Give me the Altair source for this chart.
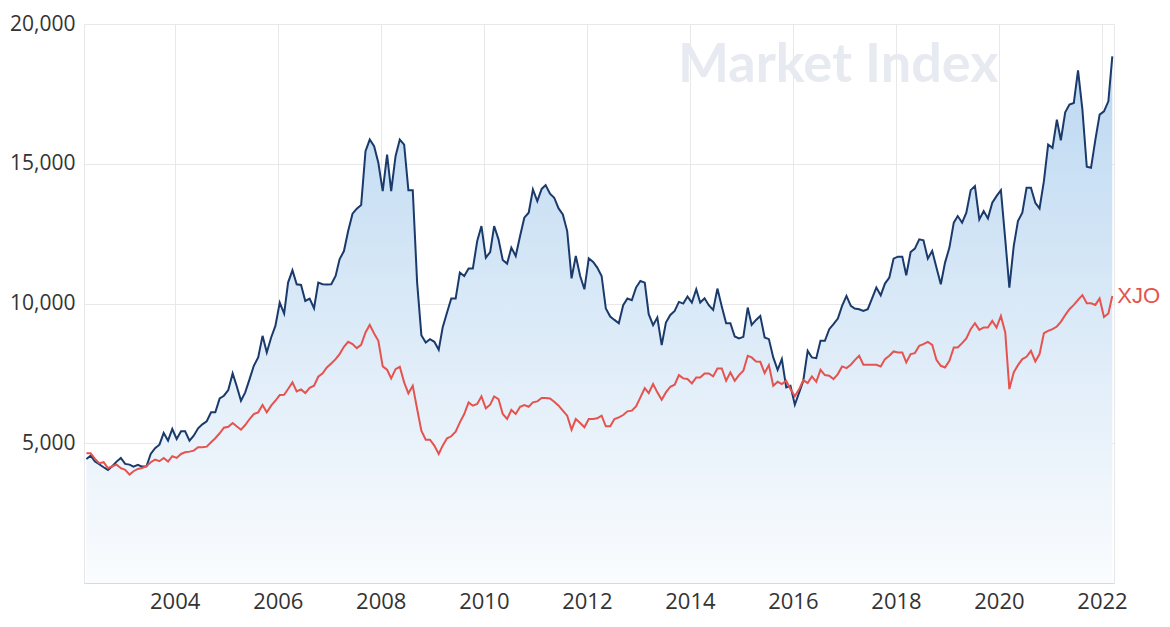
import altair as alt
import pandas as pd

# ---- data (monthly, Apr 2002 - Mar 2022) ----
start_month = "2002-04-01"
n_months = 240

stock = [
    4439, 4557, 4343, 4249, 4142, 4046, 4178, 4343, 4474, 4260, 4235, 4164, 4224, 4164, 4178, 4617,
    4821, 4950, 5367, 5093, 5510, 5153, 5428, 5428, 5093, 5271, 5535, 5678, 5785, 6106, 6106, 6606,
    6700, 6903, 7499, 7056, 6521, 6821, 7296, 7771, 8070,
    8843, 8249, 8785, 9199, 10034, 9642, 10749, 11188, 10688, 10663, 10092, 10177, 9831, 10749, 10688,
    10680, 10688, 10984, 11581, 11877, 12591, 13213, 13391, 13520, 15448, 15866, 15627, 15034, 14020,
    15330, 14020, 15270, 15866, 15687, 14056, 14056, 10749, 8867, 8606, 8724, 8630,
    8343, 9142, 9677, 10177, 10177, 11106, 10985, 11249, 11249, 12235, 12771, 11641, 11843, 12771,
    12295, 11556, 11427, 11999, 11699, 12413, 13070, 13248, 14080, 13663, 14100, 14235, 13927, 13784,
    13402, 13188, 12591, 10902, 11699, 10985, 10509, 11616, 11485, 11284, 10985,
    9820, 9534, 9413, 9295, 9938, 10177, 10118, 10570, 10806, 10747, 9617, 9224, 9499, 8510, 9320,
    9592, 9735, 10056, 9997, 10249, 10033, 10509, 10033, 10188, 9938, 9770, 10534, 9891, 9295, 9295,
    8820, 8749, 8808, 9856, 9235, 9413, 9556, 8785, 8725, 8070,
    7628, 8010, 6999, 7058, 6378, 6821, 7236, 8306, 8070, 8046, 8664, 8664, 9081, 9260, 9463, 9914,
    10271, 9914, 9820, 9796, 9735, 9796, 10177, 10570, 10295, 10713, 10927, 11606, 11677, 11677, 11009,
    11843, 11963, 12295, 12260, 11606, 11880, 11284, 10688,
    11463, 11999, 12891, 13128, 12891, 13248, 14056, 14199, 13009, 13306, 13045, 13605, 13842, 14056,
    12295, 10570, 12056, 12949, 13248, 14141, 14141, 13605, 13402, 14377, 15687, 15569, 16580, 15841,
    16841, 17116, 17176, 18341, 16937, 14891, 14855, 15866, 16759, 16877, 17234, 18841,
]

xjo = [
    4642, 4642, 4439, 4285, 4321, 4107, 4178, 4235, 4107, 4046, 3878, 3999, 4082, 4117, 4178, 4321,
    4414, 4357, 4474, 4343, 4535, 4474, 4617, 4678, 4700, 4735, 4856, 4856, 4878, 5035, 5178, 5357,
    5557, 5592, 5724, 5606, 5485, 5653, 5867, 6046, 6106,
    6367, 6106, 6343, 6521, 6724, 6736, 6939, 7178, 6856, 6927, 6796, 6986, 7056, 7379, 7499, 7713,
    7856, 8010, 8189, 8451, 8628, 8546, 8403, 8522, 8963, 9236, 8928, 8665, 7749, 7629, 7321, 7653,
    7737, 7178, 6785, 7056, 6225, 5450, 5129, 5129, 4914,
    4617, 4914, 5178, 5249, 5414, 5749, 6046, 6463, 6343, 6403, 6678, 6249, 6380, 6678, 6582, 6046,
    5867, 6189, 6046, 6307, 6367, 6307, 6463, 6499, 6617, 6617, 6605, 6487, 6343, 6165, 5986, 5486,
    5867, 5725, 5571, 5867, 5867, 5891, 5986,
    5606, 5606, 5867, 5928, 6010, 6142, 6166, 6321, 6642, 6974, 6796, 7117, 6820, 6557, 6820, 7022,
    7093, 7439, 7321, 7297, 7142, 7356, 7356, 7499, 7499, 7392, 7677, 7677, 7236, 7535, 7236, 7439,
    7593, 8129, 8070, 7927, 7915, 7511, 7796, 7057,
    7200, 7117, 7236, 6939, 6678, 6939, 7260, 7153, 7392, 7200, 7628, 7439, 7415, 7296, 7475, 7749,
    7689, 7808, 7975, 8129, 7808, 7808, 7808, 7808, 7749, 8010, 8129, 8285, 8249, 8249, 7892, 8189,
    8225, 8486, 8546, 8628, 8522, 7987, 7771,
    7713, 7950, 8427, 8427, 8581, 8749, 9081, 9295, 9056, 9142, 9142, 9377, 9142, 9556, 8963, 6939,
    7535, 7795, 8010, 8093, 8306, 7927, 8189, 8938, 9021, 9081, 9177, 9343, 9582, 9795, 9950, 10127,
    10300, 10009, 10009, 9949, 10177, 9520, 9641, 10270,
]

y_ticks = [5000, 10000, 15000, 20000]
x_tick_years = [2004, 2006, 2008, 2010, 2012, 2014, 2016, 2018, 2020, 2022]
series_label = "XJO"
watermark = "Market Index"

months = pd.date_range(start_month, periods=n_months, freq="MS") + pd.Timedelta(days=14)
dates = [d.strftime("%Y-%m-%dT00:00:00") for d in months]

df = pd.DataFrame({"date": dates, "stock": stock, "xjo": xjo})
last = pd.DataFrame({"date": [dates[-1]], "xjo": [xjo[-1]], "label": [series_label]})

# ---- styling ----
BLUE = "#1a3a6b"
RED = "#e5534f"
GRID = "#e8e8e8"
LABEL = "#333333"
FONT = "Open Sans"

x_enc = alt.X(
    "date:T",
    scale=alt.Scale(domain=["2002-03-29T00:00:00", "2022-03-27T00:00:00"]),
    axis=alt.Axis(
        values=[alt.DateTime(year=y, month=1, date=1) for y in x_tick_years],
        format="%Y",
        title=None,
        grid=True,
        gridColor=GRID,
        ticks=False,
        domain=True,
        domainColor="#d9d9d9",
        labelPadding=8,
        labelFont=FONT,
        labelFontSize=22,
        labelColor=LABEL,
    ),
)

y_axis = alt.Axis(
    values=y_ticks,
    labelExpr="format(datum.value, ',')",
    title=None,
    grid=True,
    gridColor=GRID,
    ticks=False,
    domain=False,
    labelPadding=9,
    labelFont=FONT,
    labelFontSize=21,
    labelColor=LABEL,
)
y_scale = alt.Scale(domain=[0, 20000], nice=False)

base = alt.Chart(df)

wm = alt.Chart(last).mark_text(
    text=watermark, font="Lato", fontWeight="bold", fontSize=54,
    color="#e7ebf1", align="left", baseline="alphabetic",
).encode(x=alt.value(594), y=alt.value(58))

area = base.mark_area(
    color=alt.Gradient(
        gradient="linear",
        stops=[
            alt.GradientStop(color="#bcd8f1", offset=0),
            alt.GradientStop(color="#fafcfe", offset=1),
        ],
        x1=0, x2=0, y1=0, y2=1,
    ),
).encode(x=x_enc, y=alt.Y("stock:Q", scale=y_scale, axis=y_axis))

blue_line = base.mark_line(color=BLUE, strokeWidth=2).encode(
    x=x_enc, y=alt.Y("stock:Q", scale=y_scale, axis=y_axis)
)

red_line = base.mark_line(color=RED, strokeWidth=2).encode(
    x=x_enc, y=alt.Y("xjo:Q", scale=y_scale, axis=y_axis)
)

label = alt.Chart(last).mark_text(
    color=RED, font="Liberation Sans", fontSize=22, align="left", baseline="middle", dx=5
).encode(x=x_enc, y=alt.Y("xjo:Q", scale=y_scale, axis=y_axis), text="label:N")

chart = (
    alt.layer(wm, area, blue_line, red_line, label)
    .properties(
        width=1030,
        height=559,
        autosize=alt.AutoSizeParams(type="none"),
        padding={"left": 76, "top": 16, "right": 48, "bottom": 36},
        background="white",
    )
    .configure_view(stroke=GRID, strokeWidth=1)
)

chart.save("out.html", embed_options={"renderer": "svg", "actions": False})
